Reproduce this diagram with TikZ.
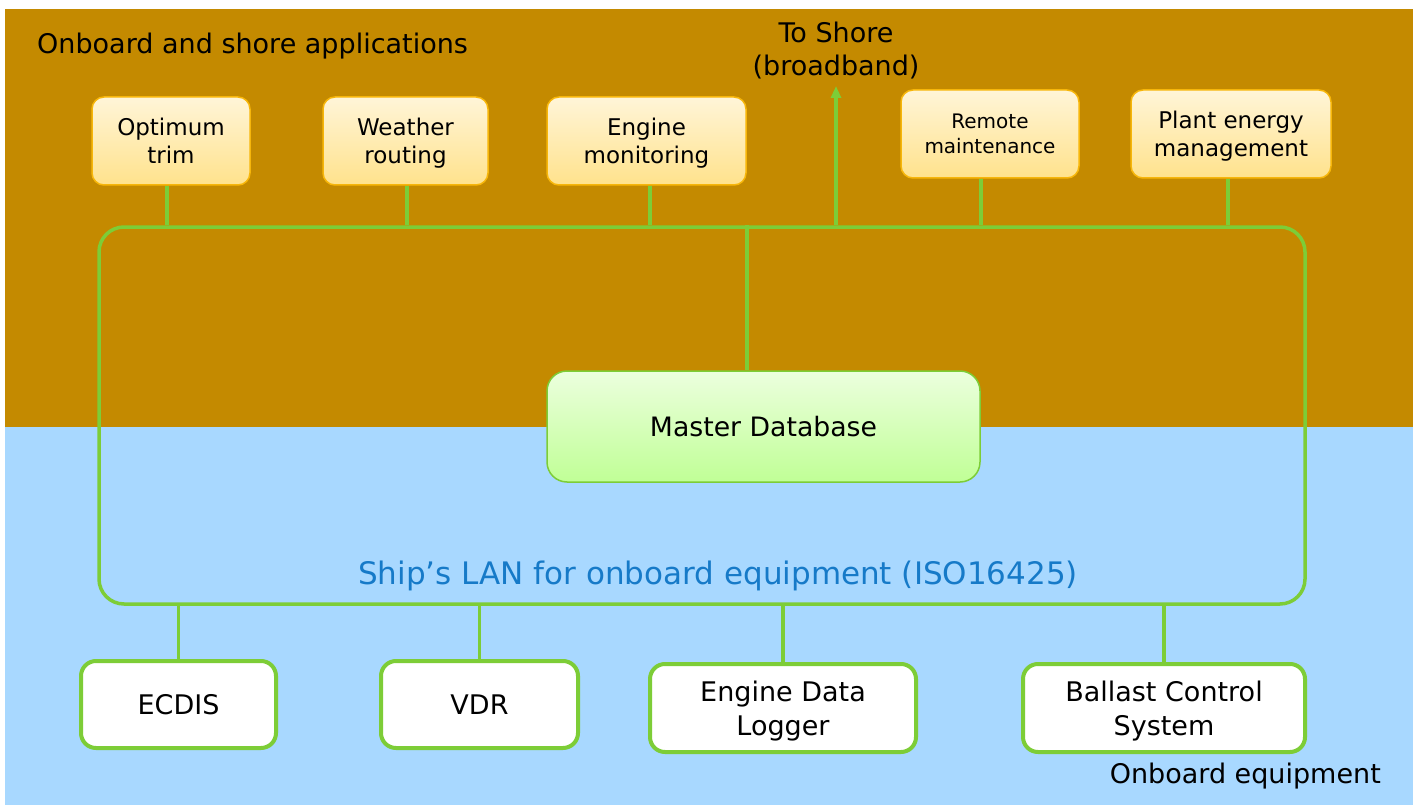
\documentclass[tikz,border=0pt]{standalone}
\usepackage{fontspec}
\setmainfont{DejaVu Sans}
\usepackage{tikz}
\usetikzlibrary{arrows,arrows.meta}
\definecolor{brownbg}{RGB}{196,138,0}
\definecolor{bluebg}{RGB}{168,216,255}
\definecolor{linkgreen}{RGB}{125,205,55}
\definecolor{appedge}{RGB}{247,182,10}
\definecolor{apptop}{RGB}{255,245,216}
\definecolor{appbot}{RGB}{255,226,140}
\definecolor{dbtop}{RGB}{236,255,222}
\definecolor{dbbot}{RGB}{192,255,150}
\definecolor{lanblue}{RGB}{22,122,200}

\begin{document}
\begin{tikzpicture}[x=1pt,y=-1pt]
% Styles
\tikzstyle{app}=[draw=appedge,line width=1.5pt,rounded corners=12pt,top color=apptop,bottom color=appbot,minimum height=88pt,inner sep=0pt,font=\fontsize{23}{28}\selectfont]
\tikzstyle{equip}=[draw=linkgreen,line width=4pt,rounded corners=15pt,fill=white,minimum height=87pt,inner sep=0pt,font=\fontsize{27}{34}\selectfont]
\tikzstyle{link}=[draw=linkgreen,line width=3.5pt]

\useasboundingbox (0,0) rectangle (1413,805);
% background bands
\fill[brownbg] (5,9) rectangle (1413,427);
\fill[bluebg] (5,427) rectangle (1413,805);

\node[anchor=base west,inner sep=0pt,font=\fontsize{27}{33}\selectfont] (apps) at (37,54) {Onboard and shore applications};
\node[anchor=base east,inner sep=0pt,font=\fontsize{27}{33}\selectfont] (equipment) at (1381,783) {Onboard equipment};

% the ship's LAN
\node[link,rounded corners=25pt,minimum width=1206pt,minimum height=377pt,inner sep=0pt] (lan) at (702,415.5) {};
\node[anchor=base,inner sep=0pt,text=lanblue,font=\fontsize{31}{36}\selectfont] (lantext) at (718,584) {Ship’s LAN for onboard equipment (ISO16425)};

% draw the nodes
\node[app,minimum width=158pt] (trim) at (171,141) {\begin{tabular}{c}Optimum\\trim\\[-6pt]\end{tabular}};
\node[app,minimum width=165pt] (weather) at (405.5,141) {\begin{tabular}{c}Weather\\routing\\[-6pt]\end{tabular}};
\node[app,minimum width=199pt] (engine) at (646.5,141) {\begin{tabular}{c}Engine\\monitoring\\[-6pt]\end{tabular}};
\node[app,minimum width=178pt,font=\fontsize{20}{25}\selectfont] (remote) at (990,134) {\begin{tabular}{c}Remote\\maintenance\\[-5pt]\end{tabular}};
\node[app,minimum width=200pt] (plant) at (1231,134) {\begin{tabular}{c}Plant energy\\management\\[-6pt]\end{tabular}};

\node[draw=linkgreen,line width=1.5pt,rounded corners=20pt,top color=dbtop,bottom color=dbbot,minimum width=433pt,minimum height=111pt,font=\fontsize{26.7}{32}\selectfont] (db) at (763.5,426.5) {Master Database};

\node[equip,minimum width=195pt] (ecdis) at (178.5,704.5) {ECDIS};
\node[equip,minimum width=197pt] (vdr) at (479.5,704.5) {VDR};
\node[equip,minimum width=266pt,minimum height=88pt] (edl) at (783,708) {\begin{tabular}{c}Engine Data\\Logger\\[-7pt]\end{tabular}};
\node[equip,minimum width=282pt,minimum height=88pt] (bcs) at (1164,708) {\begin{tabular}{c}Ballast Control\\System\\[-7pt]\end{tabular}};

\node[inner sep=0pt,font=\fontsize{27}{33}\selectfont] (shoretext) at (836,52) {\begin{tabular}{c}To Shore\\(broadband)\end{tabular}};
\coordinate (shore) at (836,86);

% connectors
\foreach \n/\s in {trim/-4,weather/1.5,engine/3.5,remote/-9,plant/-3} {
\draw[link] ([xshift=\s pt]\n.south) -- ([xshift=\s pt]\n.south |- lan.north);
}
\foreach \n in {ecdis,vdr,edl,bcs} {
\draw[link] (\n.north) -- (\n.north |- lan.south);
}
\draw[link] ([xshift=-16.5pt]db.north) -- ([xshift=-16.5pt]db.north |- lan.north);
\draw[link,-{Triangle[length=12pt,width=10pt]}] (shore |- lan.north) -- (shore);

\end{tikzpicture}
\end{document}
